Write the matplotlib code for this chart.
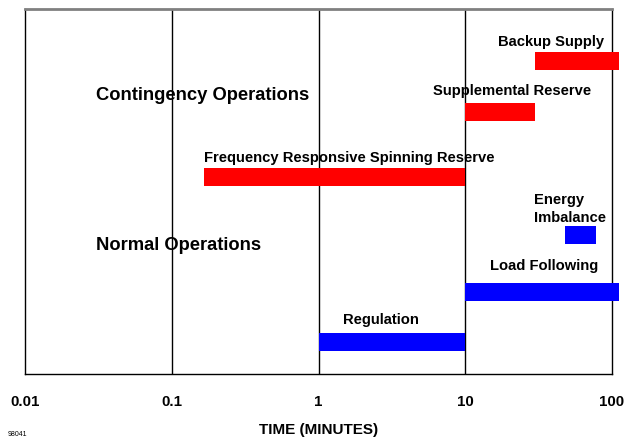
import matplotlib
matplotlib.use("Agg")
import matplotlib.pyplot as plt

plt.rcParams['font.family'] = ['Liberation Sans', 'DejaVu Sans']

# Data: (label, start minutes, end minutes, colour group)
names = ["Backup Supply", "Supplemental Reserve", "Frequency Responsive Spinning Reserve",
         "Energy Imbalance", "Load Following", "Regulation"]
starts = [30, 10, 0.167, 48, 10, 1]
ends = [112, 30, 10, 78, 112, 10]
groups = ["contingency", "contingency", "contingency", "normal", "normal", "normal"]
tick_vals = [0.01, 0.1, 1, 10, 100]
tick_labels = ["0.01", "0.1", "1", "10", "100"]

# Layout (vertical row positions in axis units, 0 = bottom, 365 = top)
rows = [313, 262, 197, 139, 82, 32]
bar_h = 18
colors = {"contingency": "#ff0000", "normal": "#0000ff"}

fig = plt.figure(figsize=(6.24, 4.37), dpi=100)
ax = fig.add_axes([25/624, (437-374)/437, (612-25)/624, (374-9)/437])
ax.set_xscale("log")
ax.set_xlim(0.01, 100)
ax.set_ylim(0, 365)

for s, e, g, r in zip(starts, ends, groups, rows):
    ax.barh(r, e - s, left=s, height=bar_h, color=colors[g], clip_on=False, zorder=3)

# gridlines
for v in tick_vals[1:-1]:
    ax.axvline(v, color="black", lw=1.0, zorder=2)

# bar labels
fs = 10.6
ax.text(88, 332, "Backup Supply", ha="right", va="center", fontsize=fs, fontweight="bold")
ax.text(6.05, 283, "Supplemental Reserve", ha="left", va="center", fontsize=fs, fontweight="bold")
ax.text(0.167, 216, "Frequency Responsive Spinning Reserve", ha="left", va="center", fontsize=fs, fontweight="bold")
ax.text(29.5, 165, "Energy\nImbalance", ha="left", va="center", fontsize=fs, fontweight="bold", linespacing=1.38)
ax.text(14.8, 108, "Load Following", ha="left", va="center", fontsize=fs, fontweight="bold")
ax.text(1.48, 54, "Regulation", ha="left", va="center", fontsize=fs, fontweight="bold")

ax.text(0.0304, 278, "Contingency Operations", ha="left", va="center", fontsize=13.2, fontweight="bold")
ax.text(0.0304, 128, "Normal Operations", ha="left", va="center", fontsize=13.2, fontweight="bold")

ax.set_yticks([])
ax.set_xticks(tick_vals)
ax.set_xticklabels(tick_labels, fontsize=10.8, fontweight="bold")
ax.minorticks_off()
ax.tick_params(axis="x", length=0, pad=15)
ax.set_xlabel("TIME (MINUTES)", fontsize=11, fontweight="bold", labelpad=10)

for side in ["left", "bottom", "right"]:
    ax.spines[side].set_color("black")
    ax.spines[side].set_linewidth(1.0)
ax.spines["top"].set_color("#808080")
ax.spines["top"].set_linewidth(2.0)

fig.text(8/624, 1 - 434/437, "98041", fontsize=5, ha="left", va="center")

fig.savefig("out.png", dpi=100)
